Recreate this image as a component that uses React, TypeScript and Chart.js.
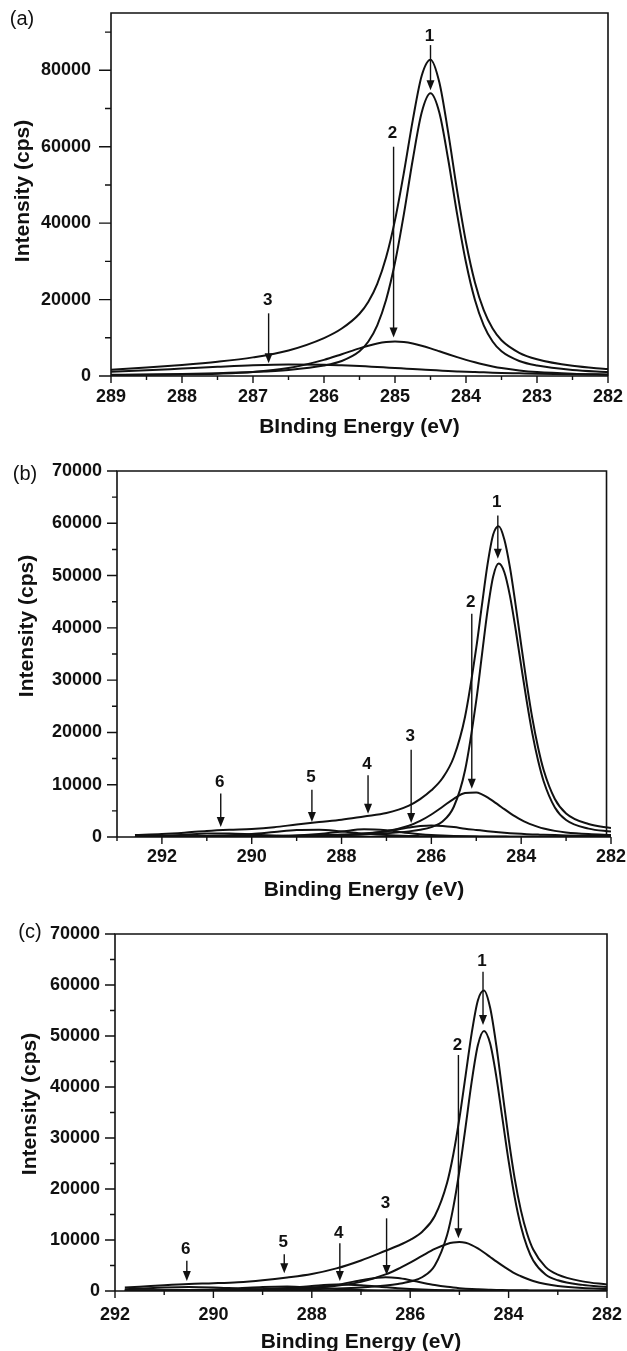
import React, { useEffect, useRef } from 'react';
import { Chart, registerables } from 'chart.js';

Chart.register(...registerables);

const FONT = "'Liberation Sans', Arial, Helvetica, sans-serif";
const INK = '#111111';

// ---------------- Panel (a) ----------------
const energyA = [289, 288.5, 288, 287.5, 287, 286.5, 286, 285.75, 285.5, 285.375, 285.25, 285.125, 285, 284.875, 284.75, 284.625, 284.5, 284.375, 284.25, 284.125, 284, 283.875, 283.75, 283.625, 283.5, 283.25, 283, 282.5, 282];
const envelopeA = [1667, 2222, 2900, 3733, 4875, 6688, 9926, 12420, 16293, 19437, 24124, 31061, 40795, 53205, 66917, 78523, 82787, 76814, 63624, 48519, 35015, 24557, 17220, 12401, 9344, 6079, 4391, 2655, 1802];
const peak1A = [327, 413, 538, 728, 1040, 1600, 2756, 3926, 6456, 9024, 13267, 19961, 29695, 42375, 56600, 68900, 74000, 68900, 56600, 42375, 29695, 19961, 13267, 9024, 6456, 3926, 2756, 1600, 1040];
const peak2A = [240, 309, 412, 605, 1035, 2088, 4220, 5694, 7237, 7933, 8497, 8870, 9000, 8870, 8497, 7933, 7237, 6474, 5694, 4934, 4220, 3576, 3003, 2507, 2088, 1453, 1035, 605, 412];
const peak3A = [1100, 1500, 1950, 2400, 2800, 3000, 2950, 2800, 2600, 2480, 2360, 2230, 2100, 1960, 1820, 1690, 1550, 1440, 1330, 1210, 1100, 1020, 950, 870, 800, 700, 600, 450, 350];
const xTickLabelsA = [282, 283, 284, 285, 286, 287, 288, 289];
const yTickLabelsA = [0, 20000, 40000, 60000, 80000];
const arrowNamesA = ['1', '2', '3'];
const arrowEnergyA = [284.5, 285.02, 286.78];
const arrowTopA = [86600, 60000, 16400];
const arrowTipA = [74800, 10100, 3320];
const arrowTextA = [88900, 63600, 19900];

// ---------------- Panel (b) ----------------
const energyB = [292.6, 292, 291.5, 291, 290.5, 290, 289.5, 289, 288.5, 288, 287.5, 287, 286.5, 286.25, 286, 285.75, 285.5, 285.25, 285, 284.875, 284.75, 284.625, 284.5, 284.375, 284.25, 284.125, 284, 283.875, 283.75, 283.625, 283.5, 283.25, 283, 282.5, 282];
const envelopeB = [374, 567, 831, 1166, 1394, 1549, 1876, 2390, 2853, 3285, 3925, 4573, 6001, 7253, 8925, 11273, 15301, 23009, 36209, 44298, 52101, 57813, 59451, 56914, 51563, 44462, 36745, 29304, 22634, 17155, 12808, 7267, 4507, 2473, 1708];
const peak1B = [70, 81, 93, 108, 126, 150, 181, 223, 282, 366, 495, 705, 1075, 1380, 1900, 2970, 5790, 12770, 26150, 34730, 43240, 49780, 52300, 50640, 46120, 39780, 32740, 25890, 19720, 14660, 10670, 5650, 3240, 1605, 1060];
const peak2B = [73, 86, 100, 117, 139, 168, 207, 261, 338, 456, 661, 1103, 2152, 3069, 4300, 5787, 7308, 8395, 8508, 8150, 7580, 6872, 6101, 5323, 4581, 3898, 3290, 2761, 2311, 1935, 1625, 1171, 880, 562, 402];
const peak3B = [30, 35, 42, 51, 62, 77, 99, 134, 194, 319, 592, 1100, 1795, 2086, 2200, 2120, 1900, 1600, 1350, 1230, 1110, 1000, 900, 810, 730, 660, 600, 545, 500, 460, 420, 360, 310, 240, 190];
const peak4B = [26, 33, 41, 53, 70, 99, 158, 284, 568, 1047, 1480, 1271, 748, 532, 374, 269, 194, 146, 116, 108, 95, 89, 83, 77, 71, 67, 60, 56, 53, 51, 47, 43, 38, 31, 26];
const peak5B = [63, 87, 121, 186, 321, 572, 958, 1344, 1387, 1044, 658, 365, 208, 165, 132, 110, 94, 84, 72, 68, 64, 61, 56, 54, 51, 48, 46, 44, 42, 41, 39, 36, 33, 29, 25];
const peak6B = [112, 245, 434, 651, 676, 483, 273, 144, 84, 53, 39, 29, 23, 21, 19, 17, 15, 14, 13, 12, 12, 11, 11, 10, 10, 9, 9, 8, 8, 8, 7, 7, 6, 6, 5];
const xTickLabelsB = [282, 284, 286, 288, 290, 292];
const yTickLabelsB = [0, 10000, 20000, 30000, 40000, 50000, 60000, 70000];
const arrowNamesB = ['1', '2', '3', '4', '5', '6'];
const arrowEnergyB = [284.52, 285.1, 286.45, 287.41, 288.66, 290.69];
const arrowTopB = [61500, 42700, 16700, 11800, 9060, 8300];
const arrowTipB = [53200, 9250, 2680, 4470, 2870, 1910];
const arrowTextB = [64000, 44900, 19200, 13900, 11400, 10500];

// ---------------- Panel (c) ----------------
const energyC = [291.8, 291.5, 291, 290.5, 290, 289.5, 289, 288.5, 288, 287.5, 287, 286.5, 286.25, 286, 285.75, 285.5, 285.25, 285.125, 285, 284.875, 284.75, 284.625, 284.5, 284.375, 284.25, 284.125, 284, 283.875, 283.75, 283.625, 283.5, 283.25, 283, 282.5, 282];
const envelopeC = [688, 848, 1146, 1388, 1527, 1724, 2118, 2655, 3334, 4434, 5992, 7891, 8871, 10029, 11676, 14704, 21231, 26714, 33843, 42200, 50570, 56979, 58925, 55523, 48150, 39014, 29934, 21997, 15811, 11279, 8141, 4734, 3206, 1886, 1275];
const peak1C = [84, 92, 106, 124, 148, 179, 220, 278, 361, 489, 696, 1070, 1370, 1850, 2750, 5020, 10990, 16360, 23530, 32150, 41050, 48190, 51000, 48510, 42050, 33780, 25500, 18320, 12700, 8690, 5990, 3220, 2100, 1200, 785];
const peak2C = [133, 146, 170, 201, 241, 294, 367, 475, 659, 1020, 1786, 3253, 4316, 5580, 6943, 8247, 9229, 9505, 9600, 9445, 9007, 8345, 7544, 6674, 5799, 4961, 4188, 3449, 2899, 2392, 1971, 1354, 965, 574, 398];
const peak3C = [38, 42, 52, 65, 84, 112, 161, 271, 554, 1178, 2122, 2700, 2533, 2122, 1631, 1178, 815, 670, 554, 460, 381, 322, 271, 236, 204, 181, 161, 147, 135, 123, 112, 97, 84, 65, 52];
const peak4C = [32, 36, 47, 63, 91, 151, 293, 575, 984, 1289, 1141, 730, 540, 387, 276, 194, 140, 124, 109, 97, 86, 78, 70, 64, 60, 56, 52, 49, 46, 44, 40, 36, 32, 26, 22];
const peak5C = [40, 49, 76, 135, 268, 505, 790, 892, 681, 398, 203, 104, 81, 63, 51, 43, 37, 35, 32, 31, 29, 28, 25, 24, 23, 22, 20, 19, 19, 18, 17, 16, 15, 12, 10];
const peak6C = [361, 483, 695, 800, 695, 483, 287, 164, 95, 60, 44, 34, 31, 27, 25, 22, 20, 20, 18, 17, 17, 16, 15, 15, 14, 14, 13, 13, 12, 12, 11, 11, 10, 9, 8];
const xTickLabelsC = [282, 284, 286, 288, 290, 292];
const yTickLabelsC = [0, 10000, 20000, 30000, 40000, 50000, 60000, 70000];
const arrowNamesC = ['1', '2', '3', '4', '5', '6'];
const arrowEnergyC = [284.52, 285.02, 286.48, 287.43, 288.56, 290.54];
const arrowTopC = [62600, 46270, 14250, 9350, 7190, 5950];
const arrowTipC = [52150, 10330, 3140, 1960, 3460, 1960];
const arrowTextC = [64600, 48200, 17100, 11400, 9600, 8100];

type PanelCfg = {
  top: number; height: number;
  chartTop: number; chartBottom: number; chartLeft: number; chartRight: number;
  energy: number[]; series: number[][];
  xMin: number; xMax: number; xMinor: number; xMajor: number; xLabels: number[];
  yMax: number; yMinor: number; yMajor: number; yLabels: number[];
  yTickGap: number; xTickGap: number; xTitle: string; xTitlePad: number;
  yTitleX: number; yTitleY: number; panel: string; panelX: number; panelY: number;
  yMajorLen: number; yMinorLen: number; xMajorLen: number; xMinorLen: number;
  frameRight: number;
  arrows: { names: string[]; energy: number[]; top: number[]; tip: number[]; text: number[] };
};

function makeDecor(cfg: PanelCfg) {
  return {
    id: 'decor',
    afterDraw(chart: any) {
      const { ctx, chartArea: ca } = chart;
      const x = chart.scales.x;
      const y = chart.scales.y;
      ctx.save();
      ctx.strokeStyle = INK;
      ctx.fillStyle = INK;
      ctx.lineWidth = 1.6;
      // frame
      const fr = x.getPixelForValue(cfg.frameRight);
      ctx.beginPath();
      ctx.moveTo(ca.left, ca.bottom);
      ctx.lineTo(ca.left, ca.top);
      ctx.lineTo(fr, ca.top);
      ctx.lineTo(fr, ca.bottom);
      ctx.moveTo(ca.left, ca.bottom);
      ctx.lineTo(ca.right, ca.bottom);
      ctx.stroke();
      // ticks
      ctx.lineWidth = 1.4;
      ctx.beginPath();
      for (let v = cfg.xMin; v <= cfg.xMax + 1e-9; v += cfg.xMinor) {
        const major = Math.abs(v / cfg.xMajor - Math.round(v / cfg.xMajor)) < 1e-6;
        const px = x.getPixelForValue(v);
        ctx.moveTo(px, ca.bottom);
        ctx.lineTo(px, ca.bottom + (major ? cfg.xMajorLen : cfg.xMinorLen));
      }
      for (let v = 0; v <= cfg.yMax + 1e-9; v += cfg.yMinor) {
        const major = Math.abs(v / cfg.yMajor - Math.round(v / cfg.yMajor)) < 1e-6;
        const py = y.getPixelForValue(v);
        ctx.moveTo(ca.left, py);
        ctx.lineTo(ca.left - (major ? cfg.yMajorLen : cfg.yMinorLen), py);
      }
      ctx.stroke();
      // arrows with numbered labels
      const a = cfg.arrows;
      ctx.lineWidth = 1.4;
      ctx.font = `bold 17px ${FONT}`;
      ctx.textAlign = 'center';
      ctx.textBaseline = 'middle';
      for (let i = 0; i < a.names.length; i++) {
        const px = x.getPixelForValue(a.energy[i]);
        const p1 = y.getPixelForValue(a.top[i]);
        const p2 = y.getPixelForValue(a.tip[i]);
        const head = 10;
        ctx.beginPath();
        ctx.moveTo(px, p1);
        ctx.lineTo(px, p2 - head + 1);
        ctx.stroke();
        ctx.beginPath();
        ctx.moveTo(px - 4, p2 - head);
        ctx.lineTo(px + 4, p2 - head);
        ctx.lineTo(px, p2);
        ctx.closePath();
        ctx.fill();
        ctx.fillText(a.names[i], px - 1, y.getPixelForValue(a.text[i]));
      }
      // y title
      ctx.save();
      ctx.font = `bold 21px ${FONT}`;
      ctx.translate(cfg.yTitleX, cfg.yTitleY);
      ctx.rotate(-Math.PI / 2);
      ctx.fillText('Intensity (cps)', 0, 0);
      ctx.restore();
      // panel label
      ctx.font = `20px ${FONT}`;
      ctx.fillText(cfg.panel, cfg.panelX, cfg.panelY);
      ctx.restore();
    },
  };
}

function Panel({ cfg }: { cfg: PanelCfg }) {
  const ref = useRef<HTMLCanvasElement>(null);
  useEffect(() => {
    const tickFont = { family: FONT, size: 18, weight: 'bold' as const };
    const chart = new Chart(ref.current as HTMLCanvasElement, {
      type: 'line',
      data: {
        datasets: cfg.series.map((s) => ({
          data: cfg.energy.map((e, i) => ({ x: e, y: s[i] })),
          borderColor: INK,
          borderWidth: 2,
          pointRadius: 0,
          fill: false,
          cubicInterpolationMode: 'monotone' as const,
        })),
      },
      options: {
        responsive: false,
        animation: false,
        devicePixelRatio: 1,
        events: [],
        layout: { padding: { top: cfg.chartTop, right: 627 - cfg.chartRight, bottom: 0, left: 0 } },
        plugins: { legend: { display: false }, tooltip: { enabled: false } },
        scales: {
          x: {
            type: 'linear',
            min: cfg.xMin,
            max: cfg.xMax,
            reverse: true,
            grid: { display: false, drawTicks: true, tickLength: cfg.xTickGap },
            border: { display: false },
            ticks: {
              autoSkip: false,
              maxRotation: 0,
              padding: 0,
              font: tickFont,
              color: INK,
              callback: (v: any) => String(v),
            },
            afterBuildTicks: (s: any) => {
              s.ticks = cfg.xLabels.map((v) => ({ value: v }));
            },
            title: {
              display: true,
              text: cfg.xTitle,
              color: INK,
              font: { family: FONT, size: 21, weight: 'bold' },
              padding: { top: 0, bottom: cfg.xTitlePad },
            },
            afterFit: (s: any) => {
              s.height = cfg.height - cfg.chartBottom;
            },
          },
          y: {
            type: 'linear',
            min: 0,
            max: cfg.yMax,
            grid: { display: false, drawTicks: true, tickLength: cfg.yTickGap },
            border: { display: false },
            ticks: {
              autoSkip: false,
              padding: 0,
              font: tickFont,
              color: INK,
              callback: (v: any) => String(v),
            },
            afterBuildTicks: (s: any) => {
              s.ticks = cfg.yLabels.map((v) => ({ value: v }));
            },
            afterFit: (s: any) => {
              s.width = cfg.chartLeft;
            },
          },
        },
      },
      plugins: [makeDecor(cfg)],
    });
    return () => chart.destroy();
  }, []);
  return (
    <canvas
      ref={ref}
      width={627}
      height={cfg.height}
      style={{ position: 'absolute', left: 0, top: cfg.top, width: 627, height: cfg.height }}
    />
  );
}

const panelA: PanelCfg = {
  top: 0, height: 440, chartTop: 13, chartBottom: 376, chartLeft: 111, chartRight: 608,
  energy: energyA, series: [envelopeA, peak1A, peak2A, peak3A],
  xMin: 282, xMax: 289, xMinor: 0.5, xMajor: 1, xLabels: xTickLabelsA,
  yMax: 95000, yMinor: 10000, yMajor: 20000, yLabels: yTickLabelsA,
  yTickGap: 20, xTickGap: 10, xTitle: 'BInding Energy (eV)', xTitlePad: 0,
  yTitleX: 23, yTitleY: 191, panel: '(a)', panelX: 22, panelY: 19,
  yMajorLen: 12, yMinorLen: 6, xMajorLen: 7, xMinorLen: 4, frameRight: 282,
  arrows: { names: arrowNamesA, energy: arrowEnergyA, top: arrowTopA, tip: arrowTipA, text: arrowTextA },
};

const panelB: PanelCfg = {
  top: 440, height: 465, chartTop: 31, chartBottom: 397, chartLeft: 117, chartRight: 611,
  energy: energyB, series: [envelopeB, peak1B, peak2B, peak3B, peak4B, peak5B, peak6B],
  xMin: 282, xMax: 293, xMinor: 1, xMajor: 2, xLabels: xTickLabelsB,
  yMax: 70000, yMinor: 5000, yMajor: 10000, yLabels: yTickLabelsB,
  yTickGap: 15, xTickGap: 9, xTitle: 'Binding Energy (eV)', xTitlePad: 2.4,
  yTitleX: 27, yTitleY: 186, panel: '(b)', panelX: 25, panelY: 34,
  yMajorLen: 10, yMinorLen: 5, xMajorLen: 7, xMinorLen: 4, frameRight: 282.1,
  arrows: { names: arrowNamesB, energy: arrowEnergyB, top: arrowTopB, tip: arrowTipB, text: arrowTextB },
};

const panelC: PanelCfg = {
  top: 905, height: 446, chartTop: 29, chartBottom: 386, chartLeft: 115, chartRight: 607,
  energy: energyC, series: [envelopeC, peak1C, peak2C, peak3C, peak4C, peak5C, peak6C],
  xMin: 282, xMax: 292, xMinor: 1, xMajor: 2, xLabels: xTickLabelsC,
  yMax: 70000, yMinor: 5000, yMajor: 10000, yLabels: yTickLabelsC,
  yTickGap: 15, xTickGap: 13, xTitle: 'Binding Energy (eV)', xTitlePad: -3.6,
  yTitleX: 30, yTitleY: 199, panel: '(c)', panelX: 30, panelY: 27,
  yMajorLen: 10, yMinorLen: 5, xMajorLen: 7, xMinorLen: 4, frameRight: 282,
  arrows: { names: arrowNamesC, energy: arrowEnergyC, top: arrowTopC, tip: arrowTipC, text: arrowTextC },
};

export default function App() {
  return (
    <div style={{ position: 'absolute', left: 0, top: 0, width: 627, height: 1351, background: '#fff', overflow: 'hidden' }}>
      <Panel cfg={panelA} />
      <Panel cfg={panelB} />
      <Panel cfg={panelC} />
    </div>
  );
}
